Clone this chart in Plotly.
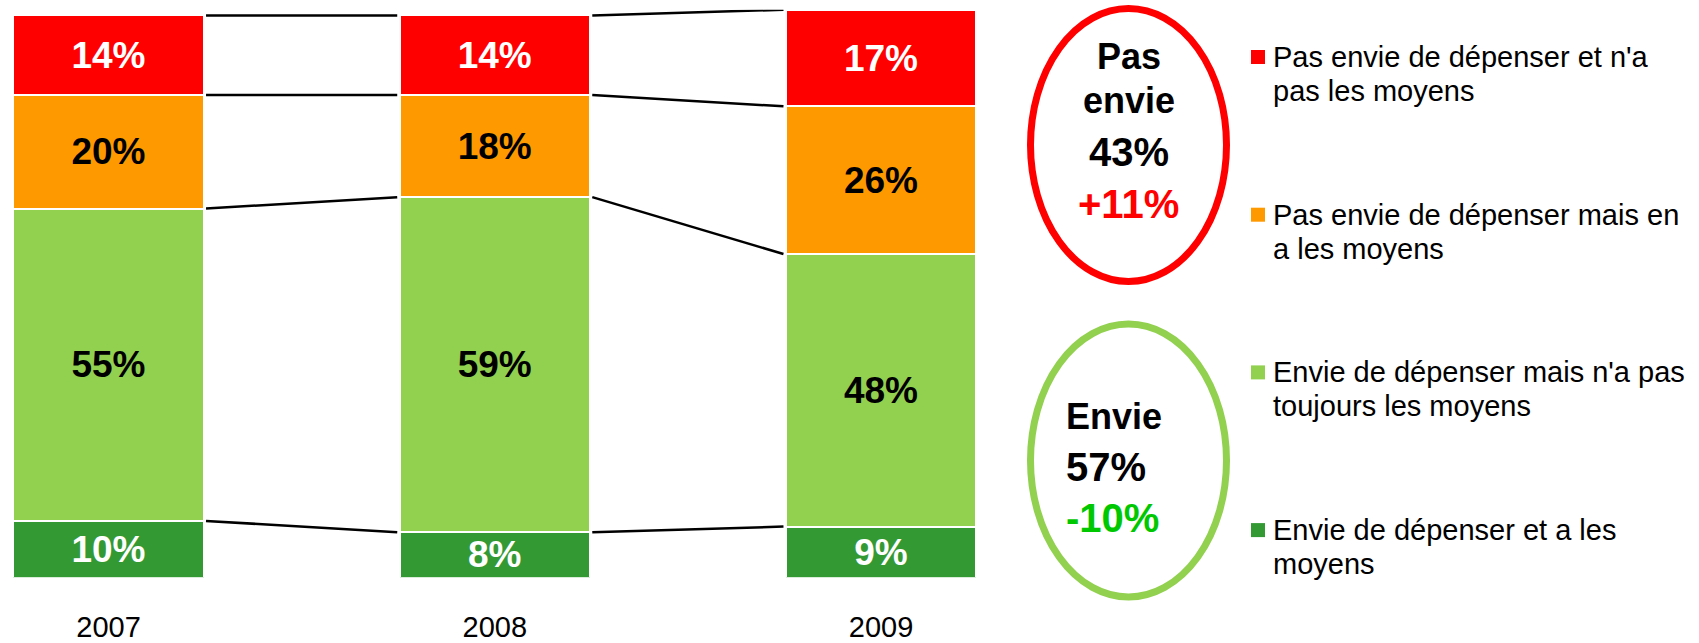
import numpy as np
import plotly.graph_objects as go

# data
years = ["2007", "2008", "2009"]
envie_et_moyens = [10, 8, 9]
envie_pas_toujours_moyens = [55, 59, 48]
pas_envie_mais_moyens = [20, 18, 26]
pas_envie_pas_moyens = [14, 14, 17]

series_names = [
    "Envie de dépenser et a les<br>moyens",
    "Envie de dépenser mais n'a pas<br>toujours les moyens",
    "Pas envie de dépenser mais en<br>a les moyens",
    "Pas envie de dépenser et n'a<br>pas les moyens",
]
series_values = [envie_et_moyens, envie_pas_toujours_moyens,
                 pas_envie_mais_moyens, pas_envie_pas_moyens]
colors = ["#339933", "#92D050", "#FF9900", "#FF0000"]
text_colors = ["white", "black", "black", "white"]

pas_envie_lines = ["Pas", "envie", "43%", "+11%"]
envie_lines = ["Envie", "57%", "-10%"]

FONT = "Arial, Liberation Sans, sans-serif"
W, H = 1699, 643
BAR_W = 0.493


def px(x):
    return x / W


def py(y):
    return 1 - y / H


fig = go.Figure()

x_pos = np.arange(len(years))
for name, vals, color, tcol in zip(series_names, series_values, colors, text_colors):
    fig.add_trace(go.Bar(
        x=x_pos, y=vals, name=name, width=BAR_W,
        marker=dict(color=color, line=dict(color="white", width=2)),
        text=[f"{v}%" for v in vals],
        textposition="inside", insidetextanchor="middle", textangle=0,
        constraintext="none",
        textfont=dict(family=FONT, size=37, color=tcol, weight="bold"),
        showlegend=False, hoverinfo="skip",
    ))

# connector lines between segment boundaries of neighbouring bars
cum = np.cumsum(np.array(series_values), axis=0)
gap = 0.006
lx, ly = [], []
for i in range(len(years) - 1):
    for k in range(cum.shape[0]):
        lx += [i + BAR_W / 2 + gap, i + 1 - BAR_W / 2 - gap, None]
        ly += [cum[k, i], cum[k, i + 1], None]
fig.add_trace(go.Scatter(x=lx, y=ly, mode="lines", line=dict(color="black", width=2.5),
                         showlegend=False, hoverinfo="skip", cliponaxis=False))

shapes = []
annotations = []

# summary ellipses
for cy, col in [(145, "#FF0000"), (460.5, "#92D050")]:
    shapes.append(dict(type="circle", xref="paper", yref="paper",
                       x0=px(1030.5), x1=px(1226.5), y0=py(cy + 136.5), y1=py(cy - 136.5),
                       line=dict(color=col, width=7)))


def summary_font(txt):
    is_num = txt[-1] == "%"
    col = "black"
    if txt.startswith("+"):
        col = "#FF0000"
    elif txt.startswith("-"):
        col = "#00C800"
    return dict(family=FONT, size=40 if is_num else 36, color=col)


for txt, cy in zip(pas_envie_lines, [57, 101, 152, 204]):
    annotations.append(dict(text=f"<b>{txt}</b>", xref="paper", yref="paper",
                            x=px(1128.5), y=py(cy), xanchor="center", yanchor="middle",
                            showarrow=False, font=summary_font(txt)))
for txt, cy in zip(envie_lines, [416, 467, 518]):
    annotations.append(dict(text=f"<b>{txt}</b>", xref="paper", yref="paper",
                            x=px(1064), y=py(cy), xanchor="left", yanchor="middle",
                            showarrow=False, font=summary_font(txt)))

# manual legend, top to bottom
for j, (name, col) in enumerate(zip(series_names[::-1], colors[::-1])):
    top = 50 + 157.7 * j
    shapes.append(dict(type="rect", xref="paper", yref="paper",
                       x0=px(1251), x1=px(1265), y0=py(top + 14), y1=py(top),
                       fillcolor=col, line=dict(width=0)))
    for n, line in enumerate(name.split("<br>")):
        annotations.append(dict(text=line, xref="paper", yref="paper", align="left",
                                x=px(1271), y=py(top + 7 + 34 * n), xanchor="left",
                                yanchor="middle", showarrow=False,
                                font=dict(family=FONT, size=29, color="black")))

fig.update_layout(
    barmode="stack",
    width=W, height=H,
    margin=dict(l=0, r=0, t=0, b=0),
    paper_bgcolor="white", plot_bgcolor="white",
    shapes=shapes, annotations=annotations,
    xaxis=dict(range=[-0.2809, 4.1178], domain=[0, 1], tickvals=list(x_pos), ticktext=years,
               showgrid=False, zeroline=False, showline=False, automargin=False,
               ticks="outside", ticklen=23, tickcolor="rgba(0,0,0,0)",
               tickfont=dict(family=FONT, size=29, color="black")),
    yaxis=dict(range=[0, 100], domain=[py(577.7), py(9.75)], visible=False, automargin=False),
)

fig.write_html("out.html", config={"displayModeBar": False},
               post_script="document.body.style.margin='0';")
